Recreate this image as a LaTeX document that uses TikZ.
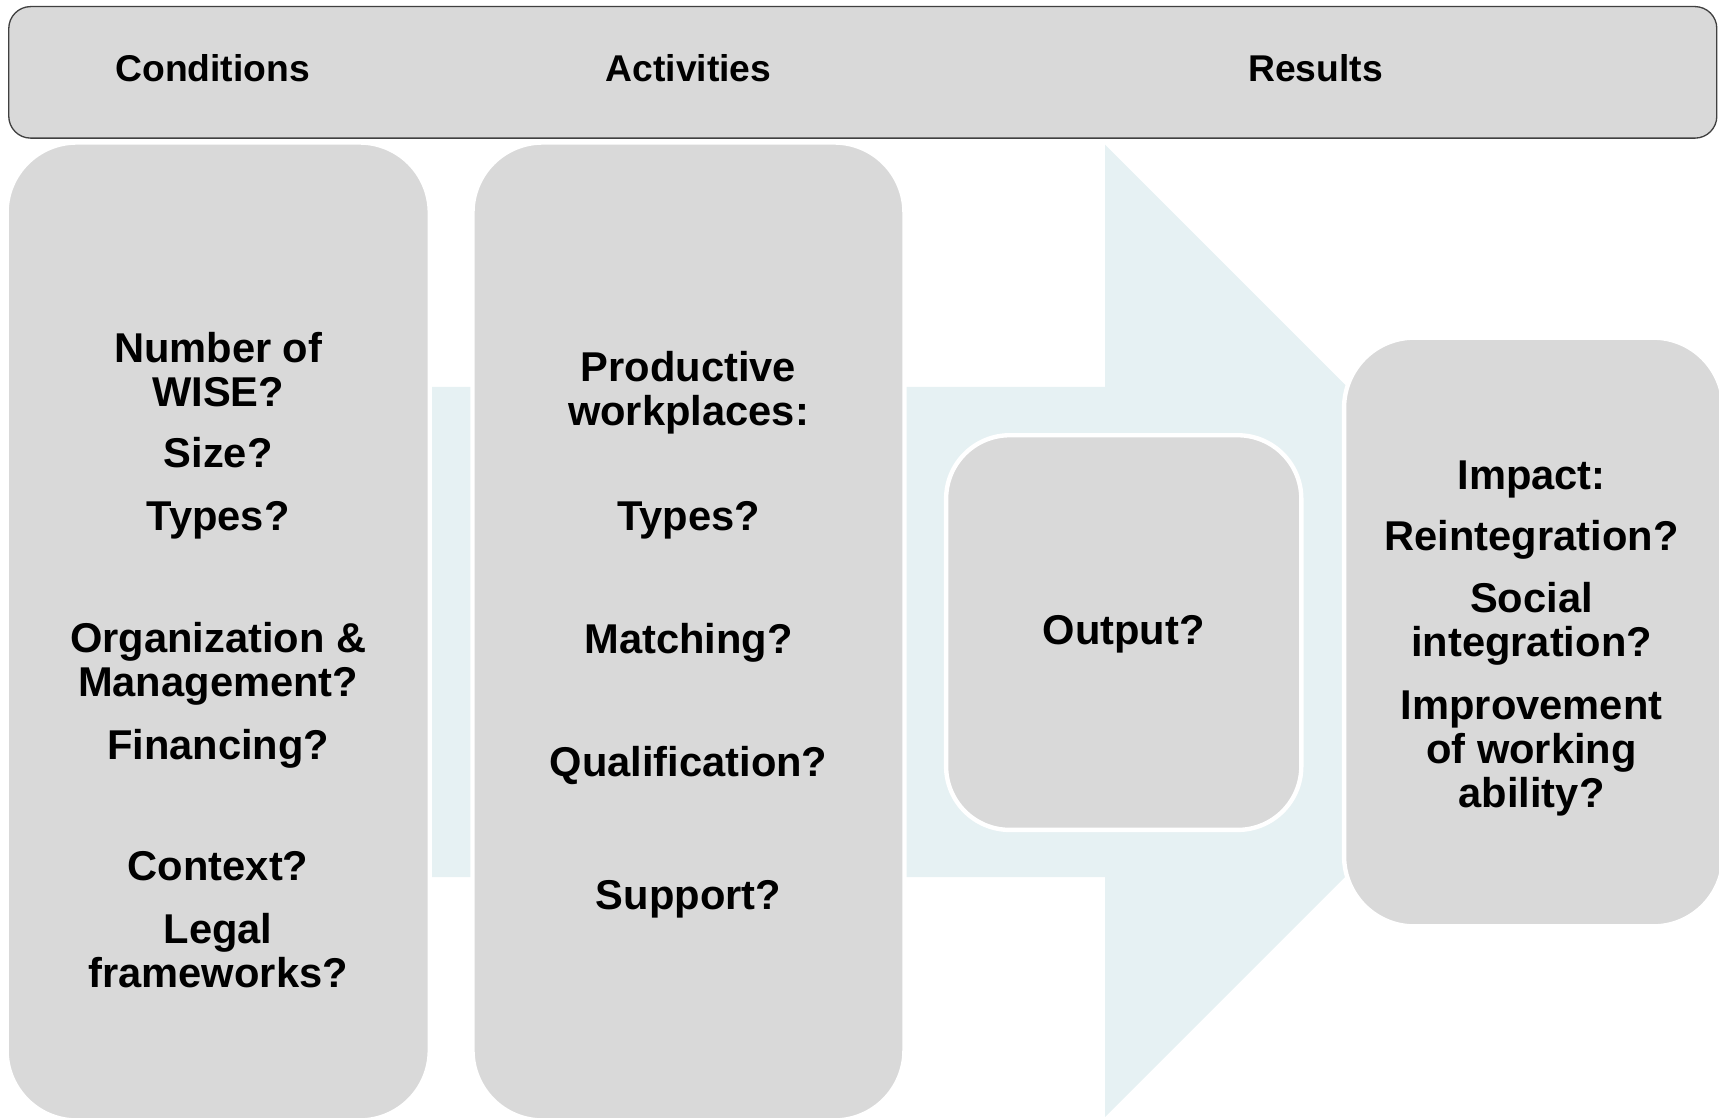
\documentclass[tikz,border=0pt]{standalone}
\usepackage{fontspec}
\setmainfont{Liberation Sans}
\usepackage{xcolor}
\usepackage{tikz}
\usetikzlibrary{shapes}
\definecolor{boxgray}{HTML}{D9D9D9}
\definecolor{bandblue}{HTML}{E6F1F3}
\definecolor{rimgray}{HTML}{404040}
\tikzstyle{heading} = [rectangle, draw=rimgray, line width=1.2pt, fill=boxgray, rounded corners=20pt, minimum width=1558pt, minimum height=120pt]
\tikzstyle{stage} = [rectangle, draw=white, line width=4pt, fill=boxgray, rounded corners=64pt]
\tikzstyle{headtext} = [font=\fontsize{34}{40}\selectfont\bfseries, text=black]
\tikzstyle{bodytext} = [font=\fontsize{38}{40}\selectfont\bfseries, text=black, align=center]

\begin{document}
\begin{tikzpicture}[x=1pt, y=-1pt]
        \useasboundingbox (0,0) rectangle (1568,1019);

        % light blue arrow behind the boxes
        \fill [bandblue] (300,353) -- (1008,353) -- (1008,132) -- (1451.5,575.5)
            -- (1008,1019) -- (1008,800) -- (300,800) -- cycle;

        \node [heading] at (787,66) (header) {};
        \node [headtext] at (194,62) (hcond) {Conditions};
        \node [headtext] at (628,62) (hact) {Activities};
        \node [headtext] at (1200,62) (hres) {Results};

        \node [stage, minimum width=386pt, minimum height=892pt] at (199,576) (conditions) {};
        \node [stage, minimum width=394pt, minimum height=892pt] at (628,576) (activities) {};
        \node [stage, rounded corners=58pt, minimum width=324pt, minimum height=360pt] at (1025,577) (output) {};
        \node [stage, minimum width=346pt, minimum height=537pt] at (1399,576.5) (impact) {};

        \node [bodytext] at (199,602) (condtext)
        {Number of\\WISE?\\[16pt]Size?\\[17pt]Types?\\[72pt]Organization \&\\Management?\\[17pt]Financing?\\[71pt]Context?\\[17pt]Legal\\frameworks?};

        \node [bodytext] at (628,579) (acttext)
        {Productive\\workplaces:\\[56pt]Types?\\[72pt]Matching?\\[72pt]Qualification?\\[81pt]Support?};

        \node [bodytext] at (1025,579) (outtext) {Output?};

        \node [bodytext] at (1397,582) (imptext)
        {Impact:\\[16pt]Reintegration?\\[17pt]Social\\integration?\\[17pt]Improvement\\of working\\ability?};
    \end{tikzpicture}
\end{document}
